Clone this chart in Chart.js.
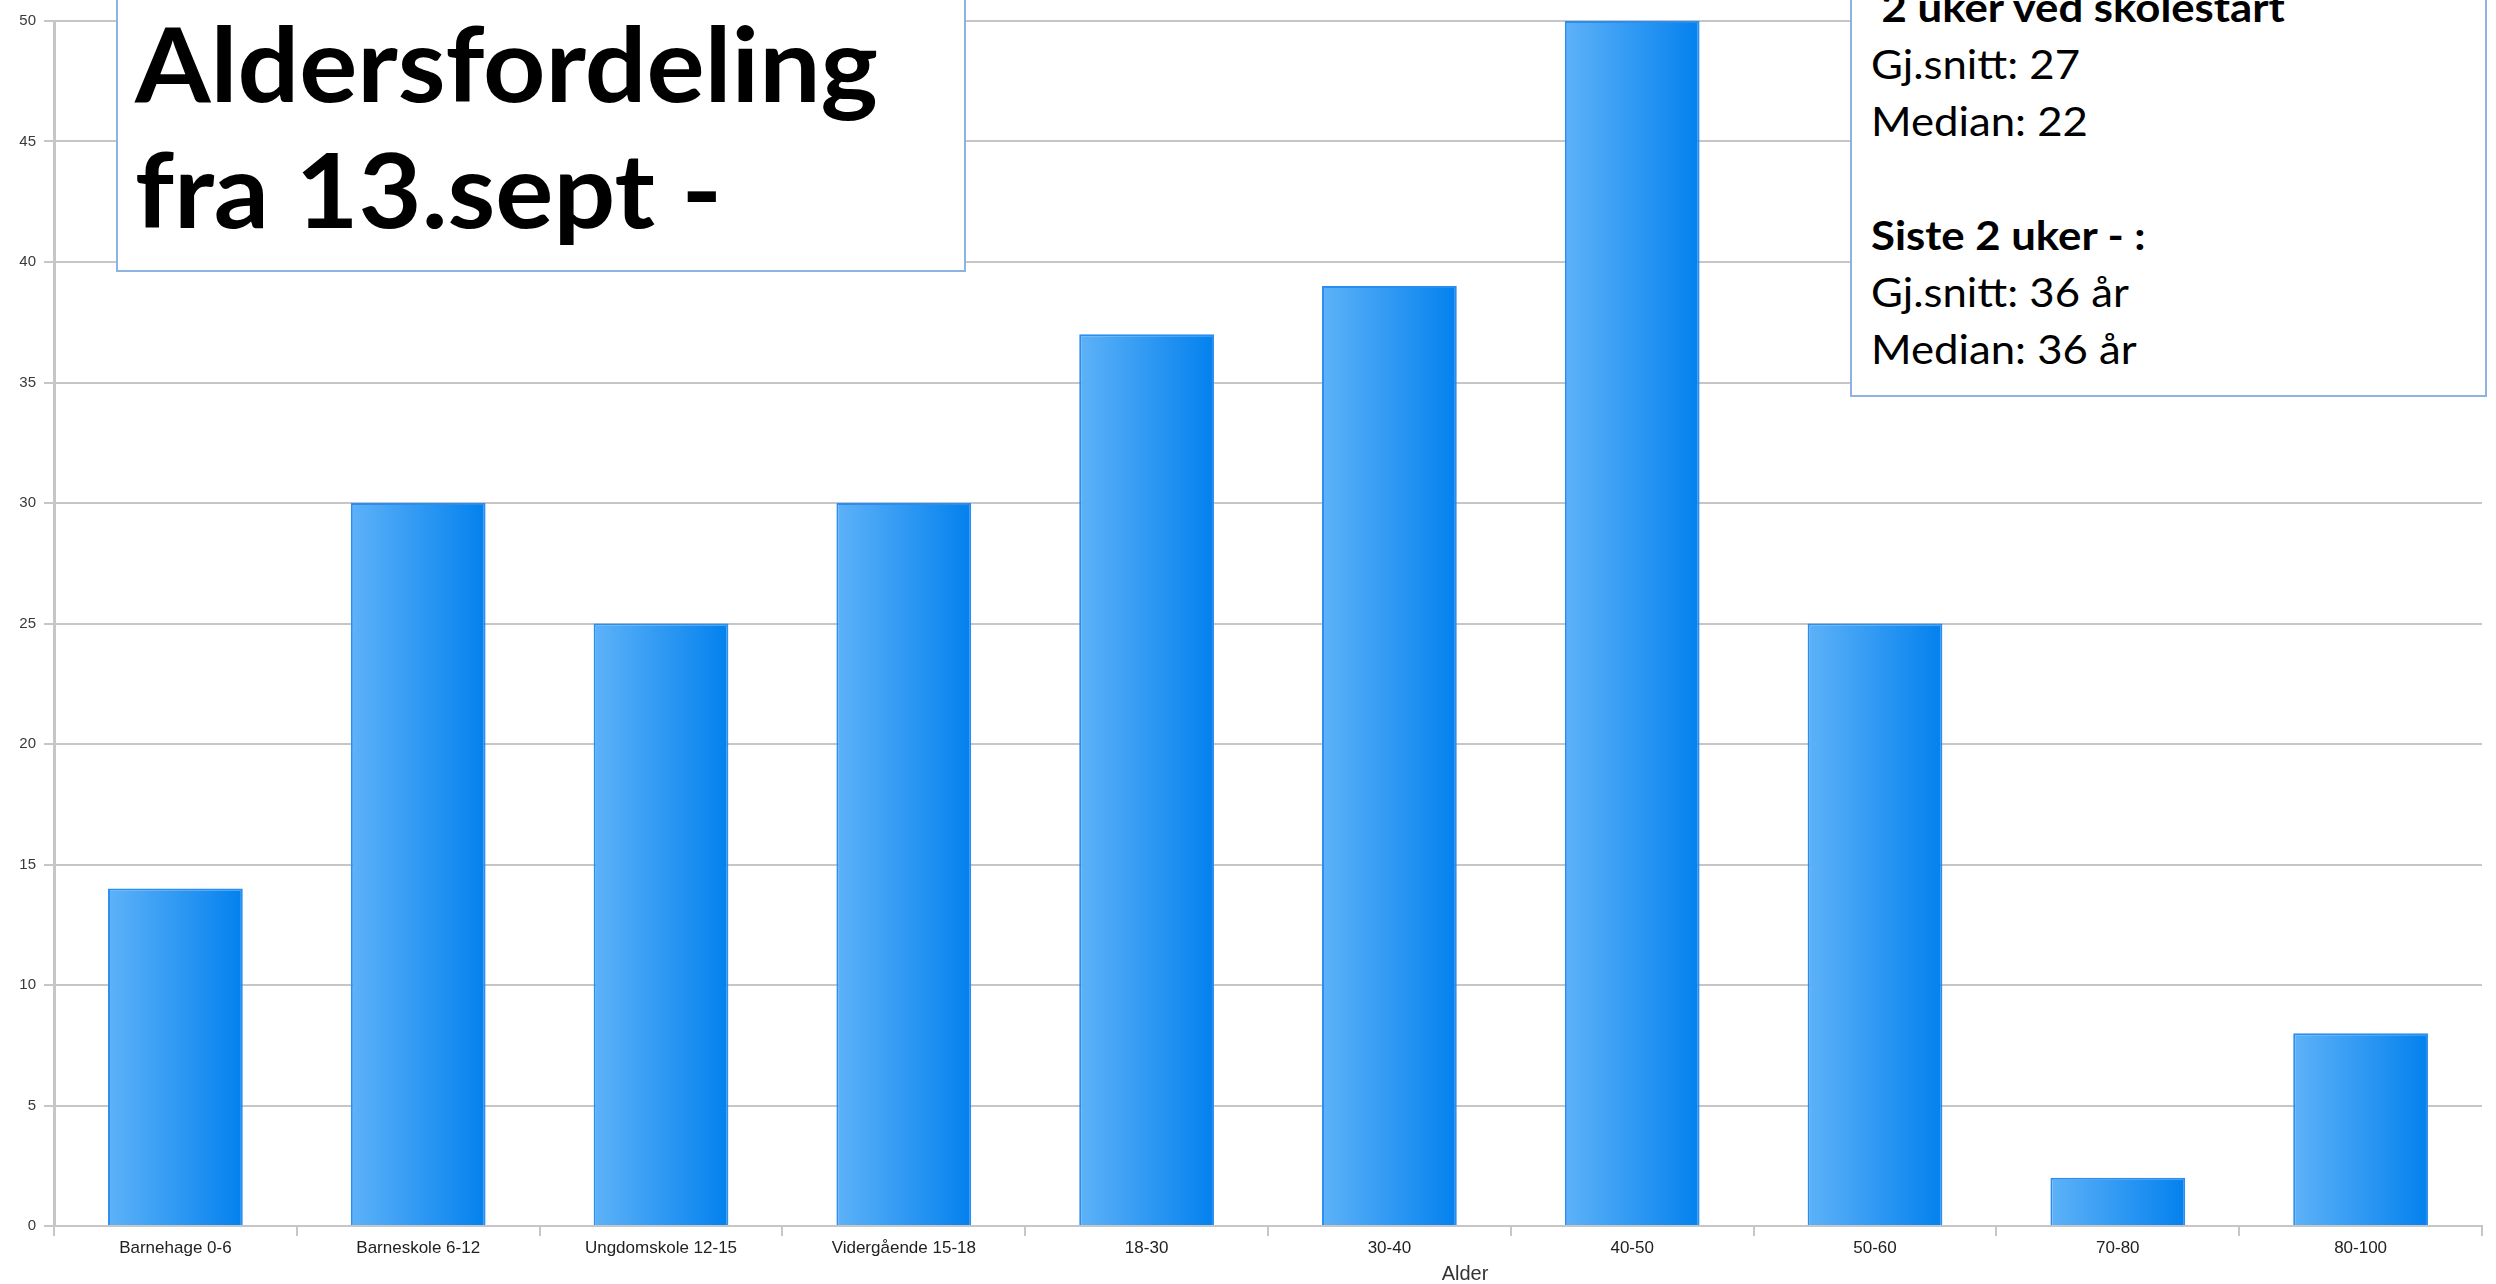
<!DOCTYPE html>
<html lang="no">
<head>
<meta charset="utf-8">
<title>Aldersfordeling</title>
<script src="https://cdn.jsdelivr.net/npm/chart.js@4/dist/chart.umd.min.js"></script>
<style>
    html, body { margin: 0; padding: 0; background: #ffffff; overflow: hidden; }
    #wrap { position: absolute; left: 0; top: 0; width: 2496px; height: 1284px; }
    .box {
        position: absolute;
        box-sizing: border-box;
        background: #ffffff;
        border: 2px solid #8db3e2;
        font-family: 'Lato', 'Open Sans', sans-serif;
        color: #000000;
    }
    .box .line { display: block; white-space: pre; }
    .box .line span { display: inline-block; transform-origin: left center; }
    #titleBox { left: 116px; top: -30px; width: 850px; height: 302px; padding: 27px 0 0 17px; }
    #titleBox .line { font-size: 103px; font-weight: 700; line-height: 126px; }
    #statsBox { left: 1850px; top: -30px; width: 637px; height: 427px; padding: 7px 0 0 19px; }
    #statsBox .line { font-size: 40px; line-height: 57px; }
    #statsBox .bold { font-weight: 700; }
    #axisTitle {
        position: absolute; left: 1465px; top: 1273px; transform: translate(-50%, -50%);
        font-family: 'Liberation Sans', Arial, sans-serif; font-size: 20px; color: #333333;
    }
</style>
</head>
<body>
<div id="wrap">
    <canvas id="ageChart"></canvas>
</div>
<div id="titleBox" class="box"></div>
<div id="statsBox" class="box"></div>
<div id="axisTitle"></div>

<script>
// Age groups and number of people in each
const categories = ['Barnehage 0-6', 'Barneskole 6-12', 'Ungdomskole 12-15', 'Vidergående 15-18',
    '18-30', '30-40', '40-50', '50-60', '70-80', '80-100'];
const counts = [14, 30, 25, 30, 37, 39, 50, 25, 2, 8];

const titleLines = ['Aldersfordeling', 'fra 13.sept -'];
const statsLines = [
    { text: ' 2 uker ved skolestart', bold: true },
    { text: 'Gj.snitt: 27', bold: false },
    { text: 'Median: 22', bold: false },
    { text: ' ', bold: false },
    { text: 'Siste 2 uker - :', bold: true },
    { text: 'Gj.snitt: 36 år', bold: false },
    { text: 'Median: 36 år', bold: false }
];
const axisTitle = 'Alder';

// Text boxes
function addLines(box, lines) {
    return lines.map(l => {
        const div = document.createElement('div');
        div.className = 'line' + (l.bold ? ' bold' : '');
        const span = document.createElement('span');
        span.textContent = l.text;
        div.appendChild(span);
        box.appendChild(div);
        return span;
    });
}
const titleSpans = addLines(document.getElementById('titleBox'), titleLines.map(t => ({ text: t })));
const statsSpans = addLines(document.getElementById('statsBox'), statsLines);
document.getElementById('axisTitle').textContent = axisTitle;

// squeeze the substitute font to the width of the original lettering
function squeeze(spans, refIndex, target) {
    const w = spans[refIndex].getBoundingClientRect().width;
    const k = target / w;
    spans.forEach(s => { s.style.transform = 'scaleX(' + k + ')'; });
}

// Horizontal gradient on each bar, light on the left, darker on the right
const barGradient = {
    id: 'barGradient',
    beforeDatasetsDraw(chart) {
        const ctx = chart.ctx;
        chart.getDatasetMeta(0).data.forEach(bar => {
            const p = bar.getProps(['x', 'width'], true);
            const g = ctx.createLinearGradient(p.x - p.width / 2, 0, p.x + p.width / 2, 0);
            g.addColorStop(0, '#5eb2f8');
            g.addColorStop(1, '#0381ee');
            bar.options = Object.assign({}, bar.options, { backgroundColor: g });
        });
    }
};

const gridColor = '#c6c6c6';

new Chart(document.getElementById('ageChart'), {
    type: 'bar',
    data: {
        labels: categories,
        datasets: [{
            data: counts,
            backgroundColor: () => '#3a9ff5',
            borderColor: '#2a8ef0',
            borderWidth: 2,
            categoryPercentage: 1.0,
            barPercentage: 0.555
        }]
    },
    options: {
        responsive: true,
        maintainAspectRatio: false,
        animation: false,
        layout: { padding: { top: 21, right: 14, left: 0, bottom: 0 } },
        plugins: {
            legend: { display: false },
            tooltip: { enabled: false }
        },
        scales: {
            x: {
                offset: true,
                grid: {
                    offset: true,
                    drawOnChartArea: false,
                    color: gridColor,
                    lineWidth: 2,
                    tickLength: 10
                },
                border: { color: gridColor, width: 2 },
                ticks: {
                    color: '#222222',
                    padding: 2,
                    maxRotation: 0,
                    autoSkip: false,
                    font: { family: "'Liberation Sans', Arial, sans-serif", size: 17 }
                },
                afterFit: scale => { scale.height = 58; }
            },
            y: {
                min: 0,
                max: 50,
                grid: {
                    color: gridColor,
                    lineWidth: 2,
                    tickLength: 10
                },
                border: { color: gridColor, width: 3 },
                ticks: {
                    stepSize: 5,
                    color: '#3a3a3a',
                    padding: 8,
                    font: { family: "'Liberation Sans', Arial, sans-serif", size: 15 }
                },
                afterFit: scale => { scale.width = 54; }
            }
        }
    },
    plugins: [barGradient]
});

document.fonts.ready.then(() => {
    squeeze(titleSpans, 0, 743);
    squeeze(statsSpans, 1, 209);
});
</script>
</body>
</html>
